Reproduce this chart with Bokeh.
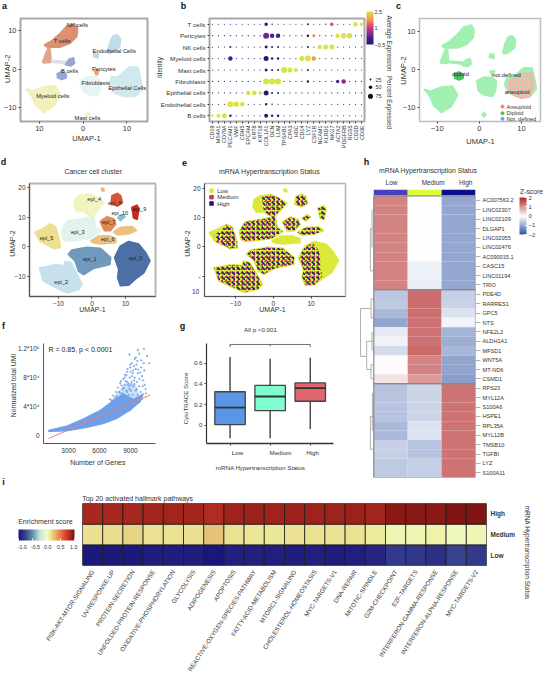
from math import pi, radians
from bokeh.plotting import figure
from bokeh.layouts import column, row
from bokeh.embed import file_html
from bokeh.resources import INLINE
from bokeh.models import (Range1d, FactorRange, FixedTicker, Label, ColorBar, LinearColorMapper,
                          LinearAxis, ColumnDataSource)
from bokeh.transform import transform

FONT = "Liberation Sans"

# ---------- panels a / c: cell-type cluster outlines read from the UMAP ----------
umap_tnk = ([-8.8,-7.1,-5.2,-3.7,-1.9,-1.3,-1.5,-3,-5.2,-8.2], [6.3,7.4,9.3,11.2,11.7,10.6,8.5,6.8,5.8,5.8])
umap_stray = ([-9.2,-8,-7.6,-7.4,-7.5,-9], [2,5.5,5.3,3,1.8,1.7])
umap_bridge = ([-7,-4,-4,-7], [2.2,2.0,1.5,1.9])
umap_b1 = ([-4,-3.2,-2.2,-2,-2.8], [1.2,2.6,2.9,1.6,0.9])
umap_b2 = ([-5.9,-4.9,-3.9,-3.9,-4.9,-5.8], [-1.2,-0.6,-1.2,-2.2,-2.6,-2.2])
umap_endo1 = ([5.6,6,6.8,7.8,8.5,8.3,7,6], [4.5,6.5,8.6,8.9,7.9,5.8,4.6,4.2])
umap_endo2 = ([2.4,2.5,3.4,3.4], [3.3,4.1,4.1,3.0])
umap_peri = ([2.6,3.6,3.2,2.9], [-0.4,-0.3,-1.4,-1.3])
umap_fibro = ([-0.6,1,3,4,3.8,3,1,-0.2], [-3,-2,-2,-3,-5.5,-7,-6.5,-5.5])
umap_epi = ([6.5,8,9,10.5,12.5,13,13.5,12,9,7,6], [-2,-2,-1,0.5,0.5,-2,-5,-7,-7,-6,-4])
umap_mye = ([-13,-11.6,-9,-6.4,-5.2,-6.7,-9,-10.8,-11.7], [-5.2,-5.7,-4.6,-4.3,-6.6,-9.6,-11.2,-9.4,-7])
umap_mast = ([0.6,1.2,1.5,1], [-11.8,-11.2,-12,-12.3])
umap_aneu = ([7,9,10,12.5,13,12,10,8,7], [-3,-2,-1,-1,-4,-7,-7.5,-6.5,-5])
a_colors = ["#DB9073","#E0A58E","#DDE0F0","#99A5D6","#99A5D6","#C3DAEA","#C3DAEA","#E8A183","#E8F3F3","#D0E9EE","#F2F0BC","#F5F2C8"]
umap_all = [umap_tnk,umap_stray,umap_bridge,umap_b1,umap_b2,umap_endo1,umap_endo2,umap_peri,umap_fibro,umap_epi,umap_mye,umap_mast]

# ---------- panel b ----------
genes = ["CD19","MS4A1","CD79A","PECAM1","VWF","CDH5","EPCAM","KRT8","KRT18","COL1A1","DCN","LUM","TPSAB1",
         "CPA3","HDC","CD14","LYZ","CSF1R","NCAM1","KLRD1","NKG7","ACTA2","PDGFRB","RGS5","CD3D","CD3E"]
cell_types = ["B cells","Endothelial cells","Epithelial cells","Fibroblasts","Mast cells","Myeloid cells","NK cells","Pericytes","T cells"]
pct_b    = [35,58,74,35,15,15,15,15,15,58,35,35,15,15,15,15,20,15,15,15,15,15,15,15,15,15]
pct_endo = [15,15,15,89,81,66,15,15,15,35,20,15,15,15,15,15,15,15,15,15,15,15,15,15,15,15]
pct_epi  = [15,15,15,15,15,15,66,66,51,74,28,28,15,15,15,15,15,15,15,15,15,15,15,15,15,15]
pct_fib  = [15,15,15,15,15,15,15,15,15,89,89,89,15,15,15,15,35,15,15,15,15,51,66,15,15,15]
pct_mast = [15,15,15,15,15,15,15,15,15,43,28,28,89,74,58,15,28,15,15,15,15,15,15,15,15,15]
pct_mye  = [15,15,15,66,15,15,15,15,15,74,35,35,15,15,15,74,89,66,15,15,15,15,15,15,15,15]
pct_nk   = [15,15,15,28,15,15,15,15,15,43,28,28,15,15,15,15,28,15,66,74,74,15,15,15,15,20]
pct_peri = [15,15,15,15,15,15,15,20,20,89,66,66,15,15,15,15,35,43,15,15,15,66,81,81,15,15]
pct_t    = [15,15,15,15,15,15,15,15,15,51,20,15,15,15,15,15,28,15,15,20,51,15,15,15,66,51]
exp_b    = [2.5,2.5,2.5,-.4,-.4,-.4,-.3,-.3,-.3,-.4,-.4,-.4,-.3,-.3,-.3,-.3,-.3,-.3,-.3,-.3,-.3,-.3,-.3,-.3,-.3,-.3]
exp_endo = [-.3,-.3,-.3,2.5,2.5,2.5,-.3,-.3,-.3,-.4,-.4,-.3,-.3,-.3,-.3,-.3,-.3,-.3,-.3,-.3,-.3,-.3,-.3,-.3,-.3,-.3]
exp_epi  = [-.3,-.3,-.3,-.3,-.3,.4,2.5,2.5,2.5,-.4,-.4,-.3,-.3,-.3,-.3,-.3,-.3,-.3,-.3,-.3,-.3,-.3,-.3,-.3,-.3,-.3]
exp_fib  = [-.3,-.3,-.3,-.3,-.3,-.3,-.3,-.3,-.3,2.5,2.5,2.5,-.3,-.3,-.3,-.3,-.4,-.3,-.3,-.3,-.3,.15,.5,-.3,-.3,-.3]
exp_mast = [-.3,-.3,-.3,-.3,-.3,-.3,-.3,-.3,-.3,-.4,-.4,-.4,2.5,2.5,2.5,-.3,-.4,-.3,-.3,-.3,-.3,-.3,-.3,-.3,-.3,-.3]
exp_mye  = [-.3,-.3,-.3,.1,-.3,-.3,-.3,-.3,-.3,-.4,-.4,-.4,-.3,-.3,-.3,2.5,2.5,1.8,-.3,-.3,-.3,-.3,-.3,-.3,-.3,-.3]
exp_nk   = [-.3,-.3,-.3,-.4,-.3,-.3,-.3,-.3,-.3,-.4,-.4,-.4,-.3,-.3,-.3,-.3,-.4,-.3,2.5,2.5,2.5,-.3,-.3,-.3,-.3,.9]
exp_peri = [-.3,-.3,-.3,-.3,-.3,-.3,-.3,.7,.9,.35,.05,.05,-.3,-.3,-.3,-.3,-.4,1.7,-.3,-.3,-.3,2.5,2.5,2.5,-.3,-.3]
exp_t    = [-.3,-.3,-.3,-.3,-.3,-.3,-.3,-.3,-.3,-.4,-.4,-.3,-.3,-.3,-.3,-.3,-.4,-.3,-.1,.4,1.2,-.3,-.3,-.3,2.5,2.5]
pct_rows = [pct_b,pct_endo,pct_epi,pct_fib,pct_mast,pct_mye,pct_nk,pct_peri,pct_t]
exp_rows = [exp_b,exp_endo,exp_epi,exp_fib,exp_mast,exp_mye,exp_nk,exp_peri,exp_t]
pct_legend = [25, 50, 75]

# ---------- panels d / e: cancer-cell cluster outlines ----------
epi_0 = ([8.5,10.9,13.9,15.9,17.2,15.4,13.4,10.9,8.5,7.7,8,6.8],[0.3,1.8,0.9,-1.9,-4.7,-8.7,-10.4,-12.9,-13.1,-10.4,-7.6,-3.6])
epi_1 = ([-7,-6,-1.5,2.5,5.5,5.3,0.5,-2.5,-4,-5],[-2.5,-1.1,-0.2,-0.5,-3.6,-5.9,-7.2,-9.3,-8.1,-4.7])
epi_2 = ([-15.6,-11,-8,-8,-6.3,-5,-3,-4,-7.5,-10.4,-14.4],[-7.2,-6.1,-6.4,-5,-5.3,-8.1,-12.7,-14.4,-15.5,-14,-11.5])
epi_3 = ([-8.9,-7.5,-3.5,0.5,1,2.5,-0.5,-4.5,-7.5,-8.5],[5.4,8.6,9.4,10.3,6.6,5.4,2.9,2.3,2,2.6])
epi_4 = ([-5,-3.5,-0.5,1.5,3.5,1.5,0,-2.5,-4.5,-5.3],[16.2,17.5,17.9,16.7,15,12.2,10,12.2,12,13.9])
epi_5 = ([-16.9,-14.9,-12.4,-10.9,-9.7,-9.5,-11.4,-15.4],[4.9,5.9,7.7,6.8,2,-0.2,-0.5,2])
epi_6a = ([-0.3,2,5,7,7,2.5,0.3],[2,3.7,3.7,2.9,1.5,1.1,1.5])
epi_6b = ([6.5,8.5,11.9,13.2,10.9,7.5],[5.1,6.6,6.8,5.6,4.5,4.1])
epi_7 = ([2.5,4.5,6.5,7,5.5,3.7],[8.6,10.2,9.4,7.7,5.6,5.6])
epi_8 = ([6,7.5,8.5,9,7.5,5.7],[17.3,18.1,17.3,15,13.9,14.7])
epi_9 = ([11.9,13.4,13.9,13.4,12.4,12.2],[13.3,14.1,12.8,9.4,9.9,11.6])
epi_10 = ([7.7,9,9.8,8.5],[9.9,11,10.3,9])
epi_tiny = ([2.9,3.5,3.5,3.0],[19.8,19.6,19,19.1])
epi_all = [epi_0,epi_1,epi_2,epi_3,epi_4,epi_5,epi_6a,epi_6b,epi_7,epi_8,epi_9,epi_10,epi_tiny]
epi_colors = ["#4C70A6","#6F9ABD","#C6E1E9","#E3F2EC","#F0F5BF","#EDDF90","#EAC17F","#EAC17F","#DF8B55","#D7543A","#C7281F","#8DBFDD","#EBB070"]
epi_labels = ["epi_0","epi_1","epi_2","epi_3","epi_4","epi_5","epi_6","epi_7","epi_8","epi_9","epi_10"]
# where medium/high cells dominate in panel e (low cells remain at the edges)
epi_0_mix = ([8.5,10.5,12,12.5,12.5,13,11,8.5,7.7,8,6.8],[0.3,1.2,-1,-4,-7,-10,-12.9,-13.1,-10.4,-7.6,-3.6])
epi_4_mix = ([-3,-0.5,1.5,3.5,1.5,0,-2.5],[17.2,17.9,16.7,15,12.2,10,12.2])
epi_5_mix = ([-15.5,-14,-12.4,-10.9,-9.7,-9.5,-11.4,-15.4],[4.5,5.2,7.7,6.8,2,-0.2,-0.5,2])
mix_all = [epi_0_mix,epi_1,epi_2,epi_3,epi_4_mix,epi_5_mix,epi_6b,epi_7,epi_8,epi_9,epi_10]

# ---------- panel f ----------
f_dense_genes = [1065,2840,4450,6060,7030,8320,9300,10260,9940,8970,7680,6390,4770,2840,1065]
f_dense_umi = [6900,12900,23000,34600,45000,57600,50000,57700,46100,34600,23000,16100,10600,6000,5000]
f_mid_genes = [6500,7500,8500,9500,10000,9000]
f_mid_umi = [36000,55000,72000,70000,50000,33000]
f_genes = [8900,9730,10310,9860,10620,9420,10040,9130,9580,10290,10810,8980,9510,10030,8690,9240,9720,10340,8470,8930,
           9410,10120,8320,8680,9090,9630,10210,8010,8430,8910,9270,9840,10380,7790,8240,8590,9040,9520,9980,7620,
           8030,8380,8830,9210,9690,10490,7310,7680,8120,8460,9020,9470,10090,7020,
           8610,9320,8140,9670,7890,8810,9150,8360,7540,9860,8720,9390,8240,7160,9010,8550,7770,9610,10190,8980,
           7420,8660,9260,9930,8070,8890,9530,7250,8430,9100,10460,7950,8770,9340,8200,9760]
f_umi = [112000,118000,120000,113000,110000,106000,104000,100000,98000,100000,100000,94000,92000,94000,88000,86000,86000,90000,84000,80000,
         80000,82000,78000,74000,74000,74000,76000,72000,70000,68000,68000,68000,70000,66000,64000,62000,62000,62000,60000,60000,
         58000,56000,56000,56000,56000,58000,55000,54000,52000,50000,50000,50000,50000,50000,
         83000,96000,69000,103000,60000,72000,82000,66000,52000,78000,92000,71000,58000,48000,88000,75000,47000,64000,68000,98000,
         49000,60000,90000,87000,75000,64000,108000,46000,80000,71000,64000,53000,70000,76000,47000,91000]
f_fit_genes = [1065,10900]
f_fit_umi = [-4600,55800]

# ---------- panel g ----------
g_status = ["Low","Medium","High"]
g_lo = [-0.128,-0.128,-0.037]
g_q1 = [0.006,0.14,0.232]
g_med = [0.17,0.278,0.36]
g_q3 = [0.324,0.385,0.41]
g_hi = [0.66,0.645,0.654]
g_colors = ["#5B96E6","#7FFFD0","#E0666E"]

# ---------- panel h ----------
h_genes = ["AC007563.2","LINC02307","LINC02109","DLGAP1","LINC02055","LINC02476","AC090015.1","CASC15","LINC01194","TRIO",
           "PDE4D","RARRES1","GPC5","NTS","NFE2L2","ALDH1A1","MFSD1","WNT5A","MT-ND6","CSMD1",
           "RPS23","MYL12A","S100A6","HSPE1","RPL35A","MYL12B","TMSB10","TGFBI","LYZ","S100A11"]
h_low = [1.11]*10 + [-.67,-.63,-.83,-1.04,-.25,-.15,-.41,.04,.04,.28] + [-.69,-.69,-.69,-.69,-.82,-.82,-.56,-.56,-.63,-.63]
h_medium = [-.02,-.02,-.02,-.02,0,0,-.03,-.18,-.18,-.2] + [1.3,1.3,1.3,1.25,1.25,1.25,1.35,1.12,1.12,.91] + [-.49,-.49,-.49,-.49,-.34,-.34,-.69,-.69,-.57,-.57]
h_high = [-1.02]*10 + [-.56,-.53,-.33,-.12,-.87,-.94,-.83,-1.05,-1.05,-1.14] + [1.25]*10
h_bar_colors = ["#4A3FBF","#D8FF3A","#0E0E8C"]
h_dendro_x = [[-.89,-.89],[-.89,-.58],[-.58,-.58],[-.58,-.5],[-.58,-.5],[-.89,-.71],[-.71,-.71],[-.71,-.55],[-.55,-.55],[-.71,-.58],[-.58,-.58],[-.58,-.5],[-.58,-.5],
              [-.6,-.6],[-.6,-.5],[-.6,-.55],[-.55,-.55],
              [-.6,-.6],[-.6,-.54],[-.54,-.54],[-.6,-.5]]
h_dendro_y = [[11.5,16.6],[11.5,11.5],[10.5,12.5],[10.5,10.5],[12.5,12.5],[16.6,16.6],[15,18],[15,15],[14,16],[18,18],[17.5,19],[17.5,17.5],[19,19],
              [3,7.5],[7.5,7.5],[3,3],[1,5],
              [23,26.5],[23,23],[20.5,24.5],[26.5,26.5]]

# ---------- panel i ----------
i_pathways = ["PI3K-AKT-MTOR-SIGNALING","UV-RESPONSE-UP","PROTEIN-SECRETION","UNFOLDED-PROTEIN-RESPONSE","OXIDATIVE-PHOSPHORYLATION",
              "GLYCOLYSIS","ADIPOGENESIS","APOPTOSIS","REACTIVE-OXYGEN-SPECIES-PATHWAY","FATTY-ACID-METABOLISM","MTORC1-SIGNALING",
              "CHOLESTEROL-HOMEOSTASIS","MYC-TARGETS-V1","DNA-REPAIR","MITOTIC-SPINDLE","G2M-CHECKPOINT","E2F-TARGETS",
              "INTERFERON-GAMMA-RESPONSE","INTERFERON-ALPHA-RESPONSE","MYC-TARGETS-V2"]
i_high = [.85,.85,.85,.86,.87,.86,.82,.88,.89,.88,.89,.88,.88,.89,.87,.95,.95,.94,.98,.98]
i_medium = [.16,.17,.2,.15,.15,.16,.26,.15,.14,.14,.15,.15,.15,.15,.12,.05,.06,.08,.03,.05]
i_low = [-.97,-.97,-.97,-.95,-.95,-.95,-.99,-.93,-.93,-.94,-.95,-.93,-.96,-.94,-.9,-.8,-.82,-.85,-.76,-.8]

# transparent top layer that holds the free-standing texts, in page pixels
overlay = figure(width=548, height=685, x_range=Range1d(0, 548), y_range=Range1d(685, 0), output_backend="svg",
                 toolbar_location=None, min_border=0, margin=(-685, 0, 0, 0))
overlay.axis.visible = False
overlay.grid.visible = False
overlay.outline_line_color = None
overlay.background_fill_color = None
overlay.border_fill_color = None


def ramp(stops, n=256):
    """Expand colour stops [(t, '#rrggbb'), ...] into a discrete palette."""
    rgb = [(t, tuple(int(c[i:i+2], 16) for i in (1, 3, 5))) for t, c in stops]
    lo, hi = rgb[0][0], rgb[-1][0]
    out = []
    for k in range(n):
        t = lo + (hi - lo) * k / (n - 1)
        for (a, ca), (b, cb) in zip(rgb, rgb[1:]):
            if t <= b + 1e-9:
                w = (t - a) / (b - a)
                out.append("#%02x%02x%02x" % tuple(round(u + (v - u) * w) for u, v in zip(ca, cb)))
                break
    return out


def text(px, py, s, size=6, color="#333333", align="center", angle=0, bold=False):
    overlay.add_layout(Label(x=px, y=py, text=s, text_font=FONT, text_font_size=f"{size}px", text_color=color,
                             text_align=align, text_baseline="middle", angle=angle,
                             text_font_style="bold" if bold else "normal"))


def letter(px, py, s):
    text(px, py, s, size=9, color="#111111", bold=True)


class Panel:
    def __init__(self, box, frame, xr, yr, numeric=True):
        l, t, w, h = box
        L, T, R, B = frame
        self.box, self.frame = box, frame
        x_range = Range1d(*xr) if numeric else FactorRange(factors=xr)
        y_range = Range1d(*yr) if numeric else FactorRange(factors=yr)
        self.f = figure(width=w, height=h, x_range=x_range, y_range=y_range, output_backend="svg",
                        toolbar_location=None, min_border_left=L - l, min_border_right=l + w - R,
                        min_border_top=T - t, min_border_bottom=t + h - B)
        f = self.f
        f.grid.visible = False
        f.outline_line_color = None
        f.background_fill_color = "white"
        f.border_fill_color = "white"


def style_axes(f, size=7, line=None, tick="#444444", color="#333333"):
    for ax in list(f.xaxis) + list(f.yaxis):
        ax.axis_line_color = line
        ax.major_tick_line_color = tick
        ax.major_tick_out = 2
        ax.major_tick_in = 0
        ax.minor_tick_line_color = None
        ax.major_label_text_font = FONT
        ax.major_label_text_font_size = f"{size}px"
        ax.major_label_text_color = color
        ax.major_label_standoff = 2


def patches(f, shapes, colors, stroke=True, **kw):
    f.patches([s[0] for s in shapes], [s[1] for s in shapes], fill_color=colors,
              line_color=colors if stroke else None, line_width=2, line_join="round", **kw)


# ---------------- a ----------------
A = Panel((0, 0, 152, 150), (18, 18, 147, 122), (-14.3, 14.7), (-13.6, 13.2))
a = A.f
a.outline_line_color = "#a8a8a8"; a.outline_line_width = 2
patches(a, umap_all, a_colors)
a.xaxis.ticker = FixedTicker(ticks=[-10, 0, 10]); a.yaxis.ticker = FixedTicker(ticks=[-10, 0, 10])
style_axes(a, 7.5)
a.xaxis.major_label_overrides = {-10: "10"}
for px, py, s in [(76.7,24,"NK cells"),(61.7,40.7,"T cells"),(113.7,50,"Endothelial Cells"),(69,70,"B cells"),(103.3,68.3,"Pericytes"),
                  (95.3,82,"Fibroblasts"),(126.7,87.7,"Epithelial Cells"),(52.3,95.7,"Myeloid cells"),(87,117.3,"Mast cells")]:
    text(px, py, s, 5.8, "#222222")
text(86, 138, "UMAP-1", 7.5); text(6.7, 68.3, "UMAP-2", 7.5, angle=pi/2)
letter(4, 5, "a")

# ---------------- b ----------------
B = Panel((152, 0, 242, 150), (209, 13, 364, 126), genes, cell_types, numeric=False)
b = B.f
b.outline_line_color = "#a8a8a8"; b.outline_line_width = 2
exp_palette = ramp([(-.5,"#1F1B6E"),(.1,"#4B1E8E"),(.5,"#8A2A8F"),(1.0,"#C7357F"),(1.4,"#E8606A"),(1.8,"#EFA040"),(2.5,"#D8E34A")])
exp_map = LinearColorMapper(palette=exp_palette, low=-.5, high=2.5)
dot_size = lambda p: 0.065 * p + 0.2
src = ColumnDataSource(dict(
    gene=[g for _ in cell_types for g in genes],
    cell=[c for c in cell_types for _ in genes],
    exp=[v for r in exp_rows for v in r],
    d=[dot_size(v) for r in pct_rows for v in r]))
b.scatter("gene", "cell", size="d", source=src, fill_color=transform("exp", exp_map), line_color=None)
style_axes(b, 6.2)
b.xaxis.major_label_orientation = pi/2
b.xaxis.major_label_text_font_size = "5.4px"
cb = ColorBar(color_mapper=exp_map, ticker=FixedTicker(ticks=[-.5, 1, 2.5]), location=(157, 77), width=7, height=33,
              padding=0, margin=0, major_tick_line_color=None, major_label_text_font=FONT,
              major_label_text_font_size="5.5px", major_label_text_color="#333333", label_standoff=1,
              background_fill_color=None, bar_line_color=None, border_line_color=None)
b.add_layout(cb, "center")
legend_y = [79, 86.7, 95.7]
overlay.scatter([370, 370, 370], legend_y, size=[dot_size(v) for v in pct_legend], fill_color="#111111", line_color=None)
for py, s in zip(legend_y, pct_legend):
    text(375, py, str(s), 5.5, align="left")
text(389, 43, "Average Expression", 6.3, angle=-pi/2)
text(389, 102, "Percent Expressed", 6.3, angle=-pi/2)
text(158.5, 67, "Identity", 6.5, angle=pi/2)
letter(183, 5, "b")

# ---------------- c ----------------
C = Panel((394, 0, 154, 150), (419, 15, 540, 123), (-14.2, 14.5), (-13.6, 13.5))
c = C.f
c.outline_line_color = "#bdbdbd"; c.outline_line_width = 1.5
green = "#A2EFB2"
patches(c, umap_all, [green] * len(umap_all))
patches(c, [umap_aneu], ["#EDB9AC"], hatch_pattern="dot", hatch_color="#A2EFB2", hatch_scale=4, hatch_alpha=.7)
patches(c, [umap_b2], ["#4BBF6B"])
c.xaxis.ticker = FixedTicker(ticks=[-10, 0, 10]); c.yaxis.ticker = FixedTicker(ticks=[-10, 0, 10])
style_axes(c, 7.5)
for px, py, s in [(460,73,"diploid"),(506,74.3,"not.defined"),(516.7,91.7,"aneuploid")]:
    text(px, py, s, 5.8, "#222222")
legend_status = ["Aneuploid","Diploid","Not. defined"]
legend_colors = ["#F08080","#33CC44","#6699FF"]
for py, s, col in zip([106, 112.7, 118.3], legend_status, legend_colors):
    overlay.scatter([502], [py], size=3, color=col)
    text(506, py, s, 5.5, align="left")
text(480, 141, "UMAP-1", 7.5); text(402.7, 70, "UMAP-2", 7.5, angle=pi/2)
letter(398, 5, "c")

# ---------------- d ----------------
D = Panel((0, 150, 175, 160), (29, 183, 155, 296), (-18.6, 18.9), (-16.8, 21.5))
d = D.f
d.outline_line_color = "#b5b5b5"; d.outline_line_width = 2
patches(d, epi_all, epi_colors)
d.xaxis.ticker = FixedTicker(ticks=[-10, 0, 10]); d.yaxis.ticker = FixedTicker(ticks=[-10, 0, 10, 20])
style_axes(d, 6.5, line="#555555")
for px, py, s in zip([135,89.3,60.7,77.3,93.7,46,107.3,108.3,114.3,139,119.3],
                     [257.3,258.7,281.3,231.3,198.7,237.7,238,221.7,202.3,208.3,212], epi_labels):
    text(px, py, s, 5.6, "#222222")
text(92.7, 171.3, "Cancer cell cluster", 7)
text(92, 308.5, "UMAP-1", 7); text(11.7, 243, "UMAP-2", 7, angle=pi/2)
letter(3, 161, "d")

# ---------------- e ----------------
E = Panel((175, 150, 175, 160), (204, 182, 345, 296), (-18.2, 19.1), (-17, 21.8))
e = E.f
e.outline_line_color = "#b5b5b5"; e.outline_line_width = 1.5
status_colors = ["#DCE93A", "#C8326E", "#1B1F6B"]
patches(e, epi_all, [status_colors[0]] * len(epi_all))
patches(e, mix_all, [status_colors[1]] * len(mix_all), stroke=False, fill_alpha=0, hatch_pattern="right_diagonal_dash",
        hatch_color=status_colors[1], hatch_scale=4, hatch_weight=1.8)
patches(e, mix_all, [status_colors[2]] * len(mix_all), stroke=False, fill_alpha=0, hatch_pattern="left_diagonal_dash",
        hatch_color=status_colors[2], hatch_scale=5, hatch_weight=1.6)
e.xaxis.ticker = FixedTicker(ticks=[-10, 0, 10]); e.yaxis.ticker = FixedTicker(ticks=[-10, 0, 10, 20])
style_axes(e, 6.5, line="#555555")
e.yaxis.major_label_overrides = {-10: "-"}
text(195, 291, "10", 6.5)
for py, s, col in zip([190.3, 196.7, 203], g_status, status_colors):
    overlay.scatter([211], [py], size=3.5, marker="square", color=col)
    text(216.7, py, s, 6, align="left")
text(269, 171.3, "mRNA Hypertranscription Status", 7)
text(272, 308.5, "UMAP-1", 7); text(186.7, 243, "UMAP-2", 7, angle=pi/2)
letter(184, 162, "e")

# ---------------- f ----------------
F = Panel((0, 310, 175, 170), (43, 343, 155, 443), (573, 11427), (-11500, 127300))
fg = F.f
blue = "#6E9FE8"
fg.patch(f_mid_genes, f_mid_umi, fill_color=blue, fill_alpha=.35, line_color=None)
fg.patch(f_dense_genes, f_dense_umi, fill_color=blue, line_color=blue, line_join="round")
fg.scatter(f_genes, f_umi, size=1.4, color=blue, alpha=.75)
fg.line(f_fit_genes, f_fit_umi, line_color="#E88080", line_width=1)
fg.xaxis.ticker = FixedTicker(ticks=[3000, 6000, 9000]); fg.yaxis.ticker = FixedTicker(ticks=[0, 40000, 80000, 120000])
style_axes(fg, 6.5, line="#555555", tick=None)
fg.yaxis.major_label_overrides = {0: "0", 40000: "4*10⁴", 80000: "8*10⁴", 120000: "1.2*10⁵"}
text(48, 348.5, "R = 0.85, p < 0.0001", 7, align="left", color="#222222")
text(97.3, 462, "Number of Genes", 7); text(12.7, 385, "Normalized total UMI", 6.8, angle=pi/2)
letter(3, 325, "f")

# ---------------- g ----------------
G = Panel((175, 310, 175, 170), (206, 339, 333, 445), (0.413, 3.58), (-0.178, 0.792))
g = G.f
pos = [1, 2, 3]
g.segment(pos, g_lo, pos, g_q1, line_color="#333333", line_width=1.3)
g.segment(pos, g_q3, pos, g_hi, line_color="#333333", line_width=1.3)
g.vbar(x=pos, bottom=g_q1, top=g_q3, width=.76, fill_color=g_colors, line_color="#444444", line_width=1.3)
g.segment([p - .38 for p in pos], g_med, [p + .38 for p in pos], g_med, line_color="#333333", line_width=1.8)
bracket_y = 0.783
g.multi_line([[1, 1, 3, 3], [2, 2]], [[bracket_y - .025, bracket_y, bracket_y, bracket_y - .025], [bracket_y - .02, bracket_y]],
             line_color="#444444", line_width=.8)
g.xaxis.ticker = FixedTicker(ticks=pos)
g.yaxis.ticker = FixedTicker(ticks=[0, .2, .4, .6])
style_axes(g, 6.2, line="#333333")
g.yaxis.major_label_overrides = {0: "0", .2: "0.2", .4: "0.4", .6: "0.6"}
g.xaxis.major_label_overrides = {1: " ", 2: " ", 3: " "}
g.xaxis.axis_line_width = 1.5; g.yaxis.axis_line_width = 1.2
for px, s in zip([237, 280, 312], g_status):
    text(px, 452, s, 6.2)
text(260, 328.7, "All p <0.001", 6.2)
text(185, 398, "CytoTRACE Score", 6.2, angle=pi/2)
text(260, 466.7, "mRNA Hypertranscription Status", 6.2)
letter(182, 325, "g")

# ---------------- h ----------------
H = Panel((350, 150, 198, 330), (358, 189, 475, 477), (-0.95, 2.5), (29.5, -1.17))
h = H.f
z_palette = ramp([(-2,"#3154A3"),(0,"#FFFFFF"),(2,"#B22222")])
z_map = LinearColorMapper(palette=z_palette, low=-2, high=2)
cols = [h_low, h_medium, h_high]
hs = ColumnDataSource(dict(x=[i for i in range(3) for _ in h_genes], y=[j for _ in range(3) for j in range(len(h_genes))],
                           z=[v for col in cols for v in col]))
h.rect("x", "y", width=1, height=1, source=hs, fill_color=transform("z", z_map), line_color=None)
h.rect([0, 1, 2], [-.87] * 3, width=1, height=.6, fill_color=h_bar_colors, line_color=None)
h.rect([1, 1, 1], [4.5, 14.5, 24.5], width=3, height=10, fill_color=None, line_color="#8a8a8a", line_width=1.2)
h.multi_line(h_dendro_x, h_dendro_y, line_color="#9a9a9a", line_width=.8)
h.xaxis.visible = False
h.yaxis.visible = False
rax = LinearAxis(ticker=FixedTicker(ticks=list(range(len(h_genes)))),
                 major_label_overrides={i: s for i, s in enumerate(h_genes)})
h.add_layout(rax, "right")
style_axes(h, 5.6, tick="#b0b0b0")
rax.major_tick_out = 5; rax.major_label_standoff = 2
zb = ColorBar(color_mapper=z_map, ticker=FixedTicker(ticks=[-2, -1, 0, 1, 2]), location=(161, 243), width=7, height=37,
              padding=0, margin=0, major_tick_line_color="white", major_tick_in=2, major_label_text_font=FONT,
              major_label_text_font_size="5.8px", major_label_text_color="#333333", label_standoff=2,
              background_fill_color=None, bar_line_color=None, border_line_color=None)
h.add_layout(zb, "center")
for px, s in zip([391, 432.7, 465.3], g_status):
    text(px, 182.3, s, 6.5)
text(427.7, 169.7, "mRNA Hypertranscription Status", 6.8)
text(531, 190.7, "Z-score", 6.8)
letter(366, 161, "h")

# ---------------- i ----------------
I = Panel((0, 480, 548, 205), (82, 503, 486, 565), (-.5, 19.5), (-.5, 2.5))
ig = I.f
ig.outline_line_color = "#8a8a8a"; ig.outline_line_width = 1
en_palette = ramp([(-1,"#1A1478"),(-.75,"#3A4590"),(-.5,"#5C93A8"),(-.25,"#BFE3DC"),(0,"#F0FBC8"),(.1,"#EFF0A0"),
                   (.25,"#E4C67A"),(.5,"#E8783F"),(.75,"#C8352A"),(1,"#7A1210")])
en_map = LinearColorMapper(palette=en_palette, low=-1, high=1)
levels = ["Low", "Medium", "High"]
series = [i_low, i_medium, i_high]
iss = ColumnDataSource(dict(x=[k for _ in levels for k in range(20)], y=[r for r in range(3) for _ in range(20)],
                            v=[v for s in series for v in s]))
ig.rect("x", "y", width=1, height=1, source=iss, fill_color=transform("v", en_map), line_color="#1a1a1a", line_width=.8)
ig.xaxis.ticker = FixedTicker(ticks=list(range(20)))
ig.xaxis.major_label_overrides = {k: s for k, s in enumerate(i_pathways)}
ig.yaxis.visible = False
iax = LinearAxis(ticker=FixedTicker(ticks=[0, 1, 2]), major_label_overrides={k: s for k, s in enumerate(levels)})
ig.add_layout(iax, "right")
style_axes(ig, 6.2, tick=None)
ig.xaxis.major_label_orientation = radians(57)
ig.xaxis.major_label_standoff = 3
iax.major_label_text_font_style = "bold"; iax.major_label_text_font_size = "6.5px"
iax.major_label_text_color = "#333333"
ib = ColorBar(color_mapper=en_map, ticker=FixedTicker(ticks=[-1, -.5, 0, .5, 1]), orientation="horizontal",
              location=(-64, 25), width=56, height=11, padding=0, margin=0, major_tick_line_color="white", major_tick_in=2,
              major_label_text_font=FONT, major_label_text_font_size="1px", major_label_text_color=None, label_standoff=0,
              background_fill_color=None, bar_line_color=None, border_line_color=None)
ig.add_layout(ib, "center")
for px, s in zip([21.7, 35, 47.3, 60.3, 73.3], ["-1.0", "-0.5", "0.0", "0.5", "1.0"]):
    text(px, 546, s, 5.3)
text(81.7, 498, "Top 20 activated hallmark pathways", 7, align="left")
text(17.7, 521, "Enrichment score", 7, align="left")
text(526.7, 552, "mRNA Hypertranscription Status", 6.5, angle=-pi/2)
letter(3, 481, "i")

page = column(row(a, b, c, spacing=0),
              row(column(row(d, e, spacing=0), row(fg, g, spacing=0), spacing=0), h, spacing=0),
              ig, spacing=0)
root = column(page, overlay, spacing=0)
open("out.html", "w").write(file_html(root, INLINE))
